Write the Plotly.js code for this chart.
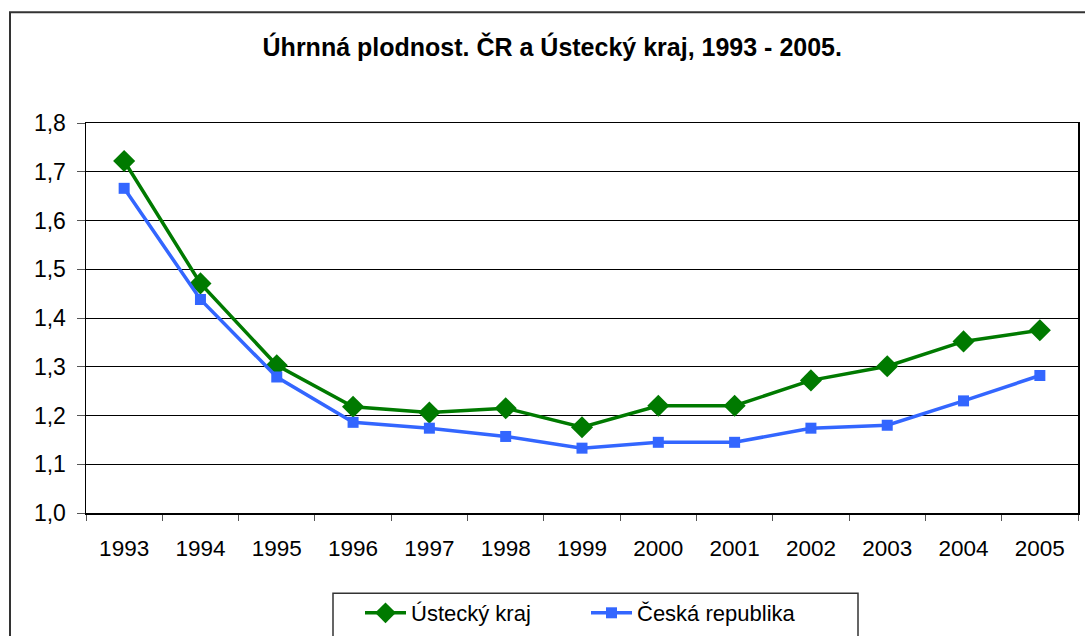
<!DOCTYPE html>
<html>
<head>
<meta charset="utf-8">
<script src="https://cdn.plot.ly/plotly-3.0.1.min.js"></script>
<style>
html,body{margin:0;padding:0;background:#fff;}
#chart{width:1085px;height:636px;}
</style>
</head>
<body>
<div id="chart"></div>
<script>
const years = ['1993','1994','1995','1996','1997','1998','1999','2000','2001','2002','2003','2004','2005'];
const ustecky = [1.722,1.471,1.303,1.218,1.206,1.215,1.176,1.220,1.220,1.272,1.301,1.352,1.375];
const cr = [1.666,1.438,1.279,1.186,1.174,1.157,1.133,1.145,1.145,1.174,1.180,1.230,1.282];
const seriesNames = ['Ústecký kraj','Česká republika'];
const titleText = 'Úhrnná plodnost. ČR a Ústecký kraj, 1993 - 2005.';

const FONT = '"Liberation Sans", Arial, sans-serif';

// plot area in pixels: x 86..1078, y 122.7..512.7
const W = 1085, H = 636;
const PL = 86, PR = 1078, PT = 122.7, PB = 512.7;
const px2x = v => (v - PL) / (PR - PL);
const px2y = v => (PB - v) / (PB - PT);

const traces = [
  {x: years, y: ustecky, name: seriesNames[0], type: 'scatter', mode: 'lines+markers',
   line: {color: '#007A00', width: 3.5},
   marker: {symbol: 'diamond', size: 17, color: '#007A00'}},
  {x: years, y: cr, name: seriesNames[1], type: 'scatter', mode: 'lines+markers',
   line: {color: '#3366FF', width: 3.5},
   marker: {symbol: 'square', size: 11, color: '#3366FF'}}
];

const layout = {
  width: W, height: H,
  margin: {l: 86, r: 7, t: 123, b: 123},
  paper_bgcolor: '#fff', plot_bgcolor: '#fff',
  separators: ', ',
  font: {family: FONT, size: 21, color: '#000'},
  title: {text: titleText, font: {family: FONT, size: 25, color: '#000', weight: 'bold'},
          x: 0.509, xanchor: 'center', y: 0.926, yanchor: 'middle'},
  showlegend: true,
  legend: {orientation: 'h', xref: 'container', yref: 'container',
           x: 360 / W, xanchor: 'left', y: (H - 592) / H, yanchor: 'top',
           bgcolor: 'rgba(0,0,0,0)', borderwidth: 0, itemwidth: 41,
           entrywidth: 170, entrywidthmode: 'pixels',
           font: {family: FONT, size: 22, color: '#000'}, traceorder: 'normal'},
  xaxis: {type: 'category', range: [-0.5, 12.5], showline: true, linecolor: '#000', linewidth: 1.5, mirror: true,
          ticks: 'outside', tickson: 'boundaries', ticklen: 6, tickcolor: '#555',
          showgrid: false, zeroline: false, fixedrange: true, ticklabelstandoff: 14,
          tickfont: {family: FONT, size: 22.5, color: '#000'}},
  yaxis: {range: [1.0, 1.8], dtick: 0.1, tickformat: '.1f',
          showline: true, linecolor: '#000', linewidth: 1.5, mirror: true,
          ticks: 'outside', ticklen: 8, tickcolor: '#555',
          showgrid: true, gridcolor: '#000', gridwidth: 1, zeroline: false,
          tickfont: {family: FONT, size: 23, color: '#000'}, ticklabelstandoff: 6},
  shapes: [
    {type: 'rect', xref: 'paper', yref: 'paper',
     x0: px2x(10), x1: 1.05, y0: -0.4, y1: px2y(12),
     line: {color: '#333', width: 2}, fillcolor: 'rgba(0,0,0,0)', layer: 'below'},
    {type: 'rect', xref: 'paper', yref: 'paper',
     x0: px2x(333), x1: px2x(858), y0: px2y(645), y1: px2y(593),
     line: {color: '#333', width: 1.5}, fillcolor: 'rgba(0,0,0,0)', layer: 'below'}
  ]
};

Plotly.newPlot('chart', traces, layout, {displayModeBar: false, staticPlot: true});
</script>
</body>
</html>
